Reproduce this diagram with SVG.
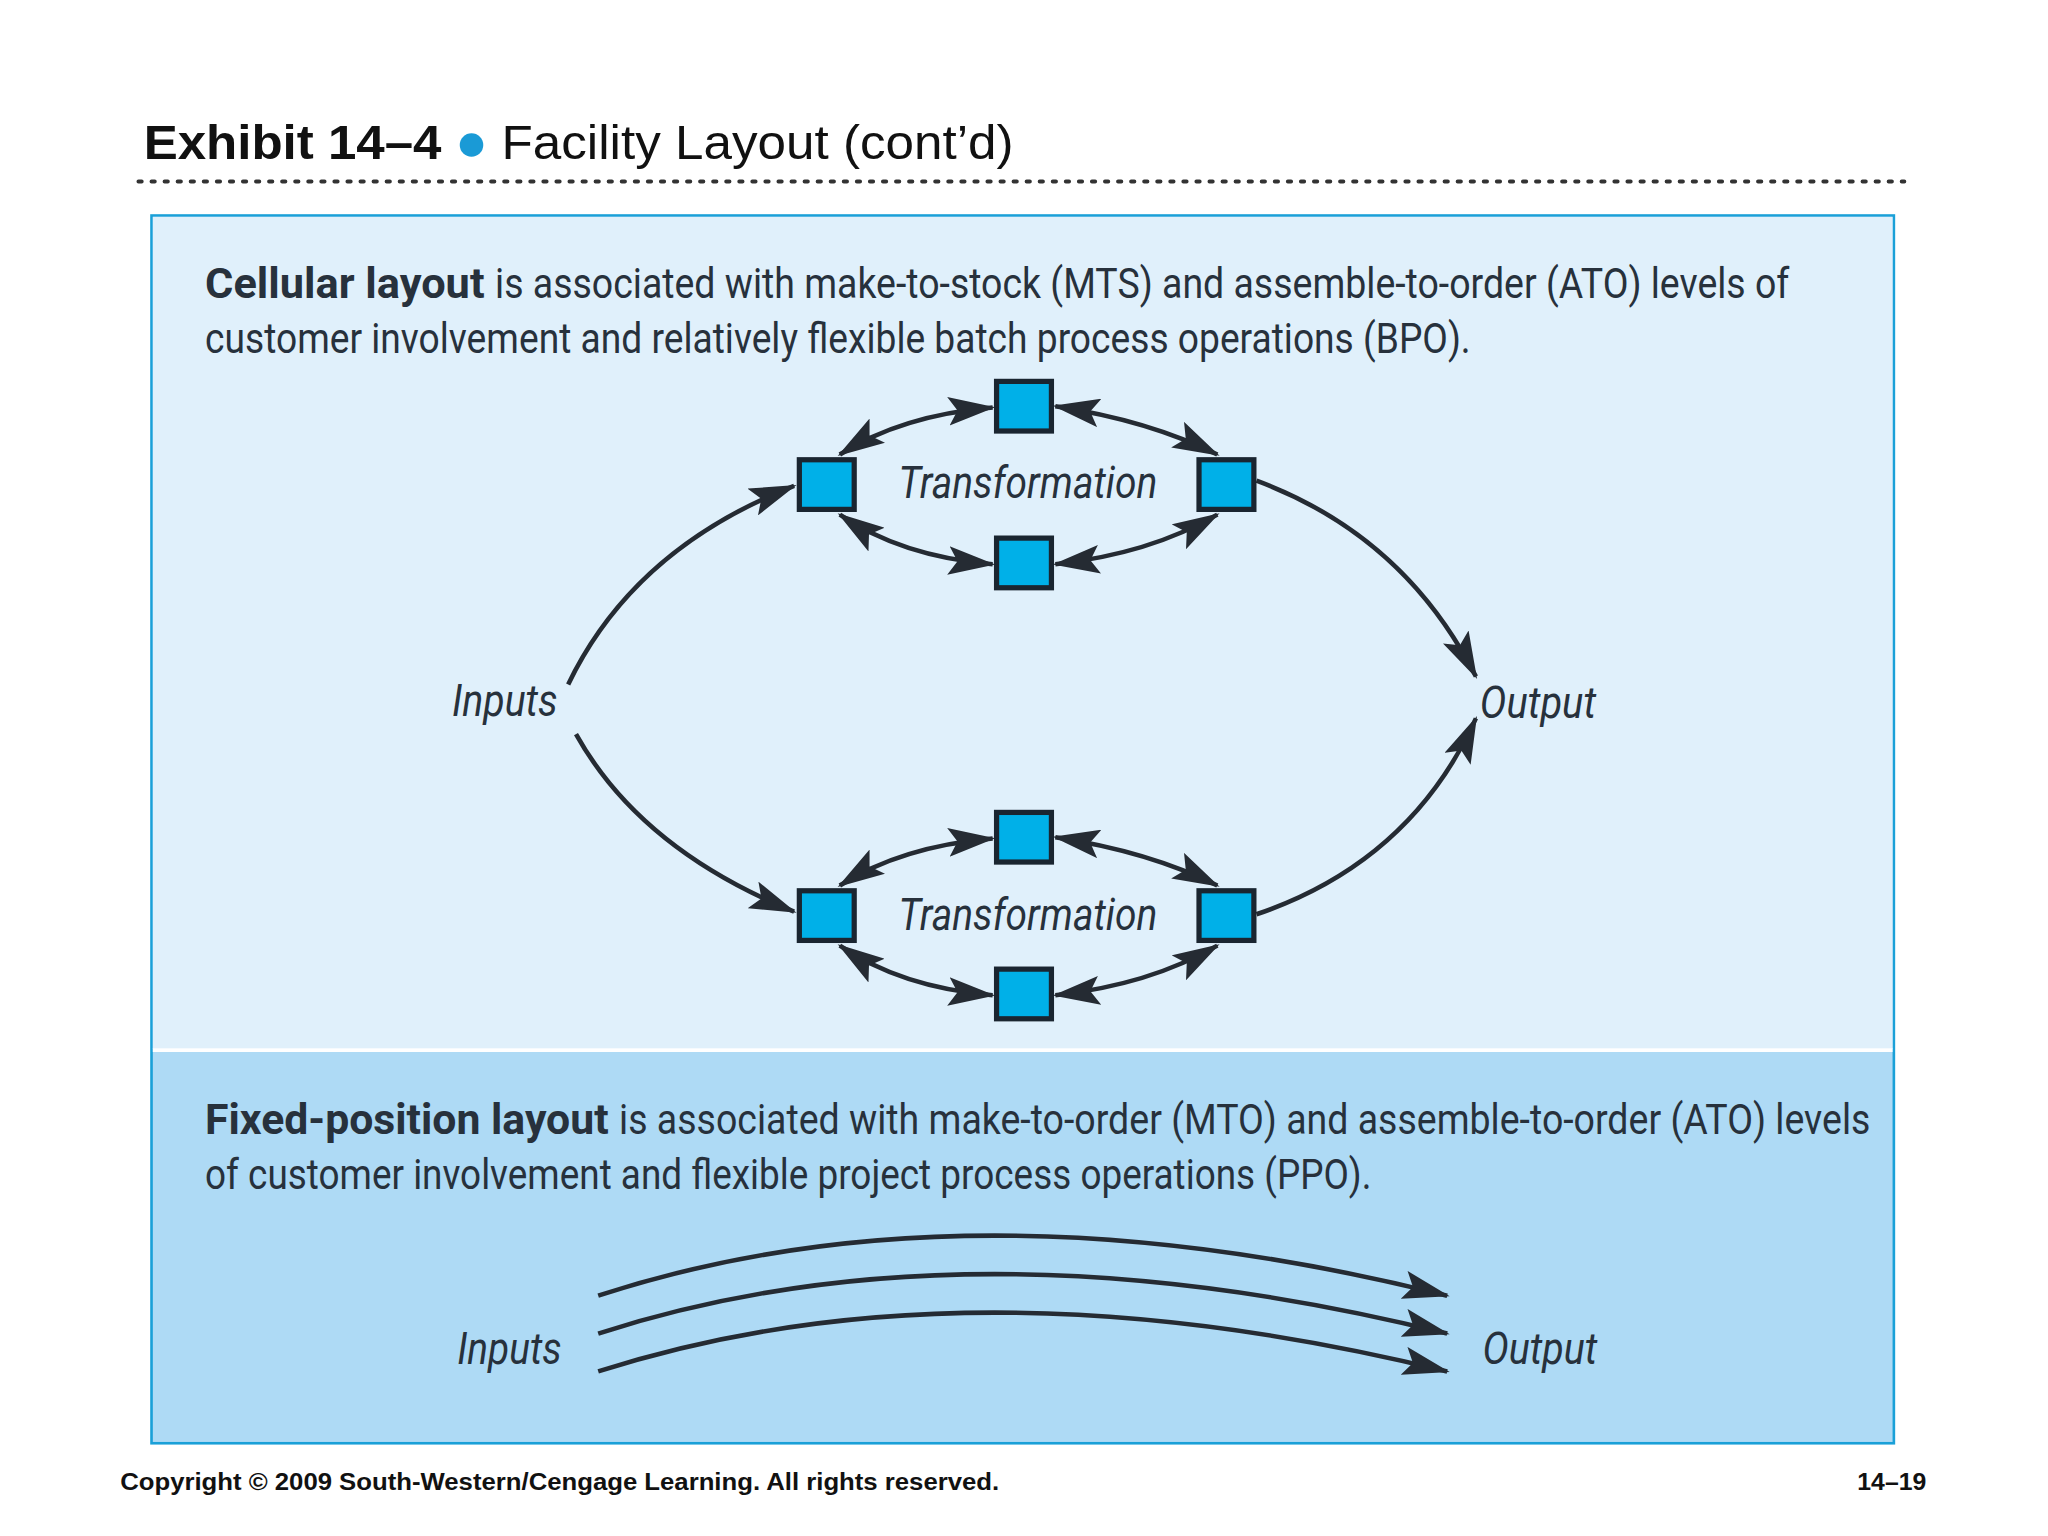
<svg xmlns="http://www.w3.org/2000/svg" width="2048" height="1536" viewBox="0 0 2048 1536">
<defs>
<marker id="ah" viewBox="0 0 36 22" refX="34" refY="11" markerWidth="36" markerHeight="22" markerUnits="userSpaceOnUse" orient="auto-start-reverse"><path d="M0,0 L36,11 L0,22 L7,11 Z" fill="#252b33"/></marker>
<style>
.cond{font-family:"Liberation Sans Narrow","Roboto","Liberation Sans",sans-serif;fill:#27313c;font-size:33px}
.it{font-family:"Liberation Sans Narrow","Roboto","Liberation Sans",sans-serif;font-style:italic;fill:#27313c;font-size:34px}
.sq{fill:#00b0e8;stroke:#1a2530;stroke-width:4}
.c{fill:none;stroke:#252b33;stroke-width:3.5}
</style>
</defs>
<rect width="2048" height="1536" fill="#fff"/>
<g transform="scale(1.306122)">
<g id="title">
<text x="110" y="122" font-family="Liberation Sans,sans-serif" font-weight="bold" font-size="37" fill="#111" textLength="228" lengthAdjust="spacingAndGlyphs">Exhibit 14–4</text>
<circle cx="361" cy="111" r="9" fill="#1a9ad6"/>
<text x="384" y="122" font-family="Liberation Sans,sans-serif" font-size="37" fill="#111" textLength="392" lengthAdjust="spacingAndGlyphs">Facility Layout (cont’d)</text>
<line x1="106" y1="139" x2="1458" y2="139" stroke="#333" stroke-width="3" stroke-dasharray="2.5 7.5" stroke-linecap="round"/>
</g>
<g id="panels">
<rect x="116" y="165" width="1334" height="940" fill="#aedaf5" stroke="#1aa0d8" stroke-width="2"/>
<rect x="117" y="166" width="1332" height="637" fill="#e0f0fb"/>
<line x1="117" y1="804" x2="1449" y2="804" stroke="#fff" stroke-width="3"/>
</g>
<g id="texts">
<text class="cond" x="157" y="228" font-weight="bold" textLength="214" lengthAdjust="spacingAndGlyphs">Cellular layout</text>
<text class="cond" x="379" y="228" textLength="991" lengthAdjust="spacingAndGlyphs">is associated with make-to-stock (MTS) and assemble-to-order (ATO) levels of</text>
<text class="cond" x="157" y="270" textLength="969" lengthAdjust="spacingAndGlyphs">customer involvement and relatively flexible batch process operations (BPO).</text>
<text class="cond" x="157" y="868" font-weight="bold" textLength="309" lengthAdjust="spacingAndGlyphs">Fixed-position layout</text>
<text class="cond" x="474" y="868" textLength="958" lengthAdjust="spacingAndGlyphs">is associated with make-to-order (MTO) and assemble-to-order (ATO) levels</text>
<text class="cond" x="157" y="910" textLength="893" lengthAdjust="spacingAndGlyphs">of customer involvement and flexible project process operations (PPO).</text>
<text class="it" x="346" y="548" textLength="81" lengthAdjust="spacingAndGlyphs">Inputs</text>
<text class="it" x="1133" y="550" textLength="89" lengthAdjust="spacingAndGlyphs">Output</text>
<text class="it" x="688" y="381" textLength="198" lengthAdjust="spacingAndGlyphs">Transformation</text>
<text class="it" x="688" y="712" textLength="198" lengthAdjust="spacingAndGlyphs">Transformation</text>
<text class="it" x="350" y="1044" textLength="80" lengthAdjust="spacingAndGlyphs">Inputs</text>
<text class="it" x="1135" y="1044" textLength="88" lengthAdjust="spacingAndGlyphs">Output</text>
</g>
<g id="connectors">
<path class="c" marker-start="url(#ah)" marker-end="url(#ah)" d="M643,348 Q690,318 760,312"/>
<path class="c" marker-start="url(#ah)" marker-end="url(#ah)" d="M808,311 Q880,322 932,348"/>
<path class="c" marker-start="url(#ah)" marker-end="url(#ah)" d="M643,394 Q690,426 760,432"/>
<path class="c" marker-start="url(#ah)" marker-end="url(#ah)" d="M808,432 Q880,424 932,394"/>
<path class="c" marker-end="url(#ah)" d="M435,524 Q485,420 608,372"/>
<path class="c" d="M962,368 Q1075,410 1130,518" marker-end="url(#ah)"/>
<path class="c" marker-start="url(#ah)" marker-end="url(#ah)" d="M643,678 Q690,648 760,642"/>
<path class="c" marker-start="url(#ah)" marker-end="url(#ah)" d="M808,641 Q880,652 932,678"/>
<path class="c" marker-start="url(#ah)" marker-end="url(#ah)" d="M643,724 Q690,756 760,762"/>
<path class="c" marker-start="url(#ah)" marker-end="url(#ah)" d="M808,762 Q880,754 932,724"/>
<path class="c" marker-end="url(#ah)" d="M441,562 Q490,650 608,698"/>
<path class="c" marker-end="url(#ah)" d="M962,700 Q1080,660 1130,550"/>
<path class="c" marker-end="url(#ah)" d="M458,992 Q740,900 1108,992"/>
<path class="c" marker-end="url(#ah)" d="M458,1021 Q740,930 1108,1021"/>
<path class="c" marker-end="url(#ah)" d="M458,1050 Q740,960 1108,1050"/>
</g>
<g id="nodes">
<rect id="t1" class="sq" x="763" y="292" width="42" height="38"/>
<rect id="l1" class="sq" x="612" y="352" width="42" height="38"/>
<rect id="r1" class="sq" x="918" y="352" width="42" height="38"/>
<rect id="b1" class="sq" x="763" y="412" width="42" height="38"/>
<rect id="t2" class="sq" x="763" y="622" width="42" height="38"/>
<rect id="l2" class="sq" x="612" y="682" width="42" height="38"/>
<rect id="r2" class="sq" x="918" y="682" width="42" height="38"/>
<rect id="b2" class="sq" x="763" y="742" width="42" height="38"/>
</g>
<g id="footer" font-family="Liberation Sans,sans-serif" font-weight="bold" font-size="19" fill="#111">
<text x="92" y="1141" textLength="673" lengthAdjust="spacingAndGlyphs">Copyright © 2009 South-Western/Cengage Learning. All rights reserved.</text>
<text x="1422" y="1141">14–19</text>
</g>
</g>
</svg>
